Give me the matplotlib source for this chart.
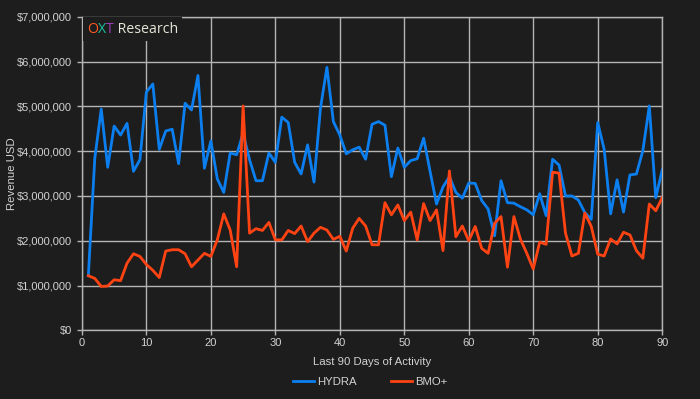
import matplotlib
matplotlib.use('Agg')
import matplotlib.pyplot as plt
from matplotlib.ticker import FuncFormatter
from matplotlib.offsetbox import TextArea, HPacker, AnchoredOffsetbox

# daily revenue (millions USD), days 1..90
days = list(range(1, 91))

hydra = [1.22, 3.84, 4.94, 3.64, 4.56, 4.36, 4.62, 3.55, 3.81, 5.32,
         5.50, 4.04, 4.45, 4.49, 3.72, 5.07, 4.92, 5.69, 3.62, 4.23,
         3.38, 3.08, 3.96, 3.92, 4.40, 3.81, 3.34, 3.34, 3.96, 3.75,
         4.76, 4.64, 3.75, 3.49, 4.14, 3.31, 4.96, 5.87, 4.66, 4.36,
         3.94, 4.03, 4.09, 3.82, 4.60, 4.66, 4.58, 3.43, 4.07, 3.64,
         3.79, 3.83, 4.29, 3.55, 2.82, 3.20, 3.43, 3.08, 2.95, 3.29,
         3.28, 2.90, 2.71, 2.11, 3.34, 2.85, 2.84, 2.76, 2.69, 2.58,
         3.05, 2.56, 3.82, 3.69, 3.00, 3.00, 2.91, 2.63, 2.48, 4.64,
         4.04, 2.60, 3.36, 2.64, 3.47, 3.49, 4.01, 5.01, 2.96, 3.58]

bmo = [1.22, 1.16, 0.98, 0.99, 1.13, 1.11, 1.50, 1.71, 1.65, 1.47,
       1.34, 1.18, 1.77, 1.80, 1.80, 1.71, 1.42, 1.57, 1.72, 1.65,
       2.02, 2.60, 2.24, 1.42, 5.01, 2.17, 2.27, 2.23, 2.41, 2.02,
       2.02, 2.23, 2.16, 2.33, 1.98, 2.17, 2.30, 2.24, 2.03, 2.10,
       1.77, 2.28, 2.50, 2.33, 1.91, 1.91, 2.85, 2.58, 2.80, 2.45,
       2.64, 2.02, 2.83, 2.45, 2.69, 1.78, 3.56, 2.09, 2.33, 2.00,
       2.32, 1.83, 1.72, 2.39, 2.54, 1.41, 2.54, 2.04, 1.72, 1.37,
       1.97, 1.92, 3.53, 3.51, 2.17, 1.66, 1.72, 2.62, 2.32, 1.70,
       1.66, 2.04, 1.93, 2.19, 2.13, 1.78, 1.61, 2.82, 2.67, 2.96]

series_names = ['HYDRA', 'BMO+']
xticks = list(range(0, 91, 10))
yticks = list(range(0, 8))

bg = '#1d1d1d'
fg = '#d2d2d2'
gridc = '#b4b4b4'

plt.rcParams['font.family'] = ['Liberation Sans', 'DejaVu Sans']

fig = plt.figure(figsize=(7, 3.99), dpi=100, facecolor=bg)
ax = fig.add_axes([0.117, 0.172, 0.829, 0.786], facecolor=bg)

hy, = ax.plot(days, [v * 1e6 for v in hydra], color='#0c7ff0', lw=2.0, zorder=3)
bm, = ax.plot(days, [v * 1e6 for v in bmo], color='#ff4312', lw=2.0, zorder=4)

ax.set_xlim(0, 90)
ax.set_ylim(0, 7e6)
ax.set_xticks(xticks)
ax.set_yticks([t * 1e6 for t in yticks])
ax.yaxis.set_major_formatter(FuncFormatter(lambda v, p: '${:,.0f}'.format(v)))
ax.grid(True, color=gridc, lw=1.0)
ax.set_axisbelow(True)
for s in ax.spines.values():
	s.set_color(gridc)
	s.set_linewidth(1.0)
ax.tick_params(colors=gridc, labelcolor=fg, labelsize=8.0, length=3.5, width=1)
ax.tick_params(axis='x', pad=2)

ax.set_xlabel('Last 90 Days of Activity', color=fg, fontsize=8.2)
ax.xaxis.set_label_coords(0.5, -0.085)
ax.set_ylabel('Revenue USD', color=fg, fontsize=8.2)
ax.yaxis.set_label_coords(-0.112, 0.5)

fig.legend([hy, bm], series_names, loc='center', bbox_to_anchor=(0.529, 0.043),
	ncol=2, frameon=False, fontsize=8.2, handlelength=1.8, handletextpad=0.3,
	columnspacing=3.0, labelcolor=fg)

# brand title in the top-left corner of the plot
tfont = ['Open Sans', 'DejaVu Sans']
parts = [('O', '#ff5a24'), ('X', '#19c2a0'), ('T', '#9b3bb5'), (' Research', '#e6e6d8')]
boxes = [TextArea(t, textprops=dict(color=c, fontsize=10.2, family=tfont)) for t, c in parts]
pack = HPacker(children=boxes, align='baseline', pad=0, sep=0)
anch = AnchoredOffsetbox(loc='upper left', child=pack, pad=0.3, borderpad=0.05, frameon=True)
anch.patch.set_facecolor(bg)
anch.patch.set_edgecolor('none')
anch.set_zorder(6)
ax.add_artist(anch)

fig.savefig('out.png', dpi=100, facecolor=bg)
